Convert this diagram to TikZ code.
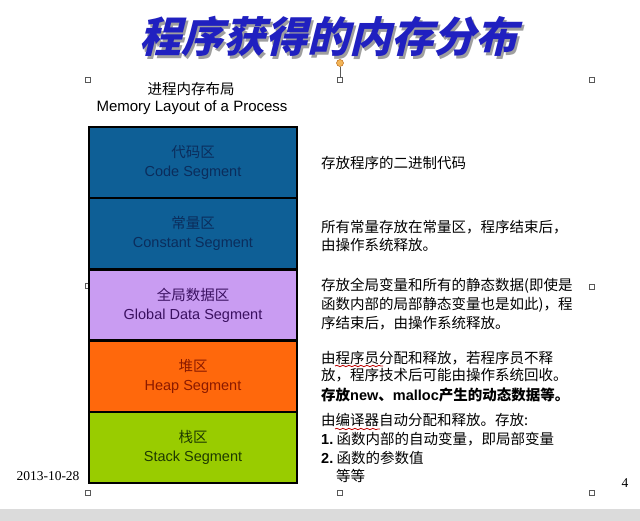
\documentclass[tikz,border=0pt]{standalone}
\usepackage{fontspec}
\setmainfont{Liberation Serif}
\newfontfamily\cjk{Noto Sans CJK SC}
\newfontfamily\arial{Liberation Sans}
\newfontfamily\titlefont[FakeSlant=0.25]{Noto Sans CJK SC}
\usetikzlibrary{decorations.pathmorphing}
\definecolor{segblue}{HTML}{0E5F96}
\definecolor{segbluetxt}{HTML}{0B2D5C}
\definecolor{seglav}{HTML}{C99CF2}
\definecolor{seglavtxt}{HTML}{3A1060}
\definecolor{segorange}{HTML}{FF680C}
\definecolor{segorangetxt}{HTML}{8B1A00}
\definecolor{seggreen}{HTML}{99CC00}
\definecolor{seggreentxt}{HTML}{1E3A00}
\definecolor{titleblue}{HTML}{2020C0}
\definecolor{handleorange}{HTML}{F2B457}
\newcommand{\titletext}{程序获得的内存分布}
\tikzset{
  seg/.style={draw=black, line width=2.4pt, minimum width=208pt, minimum height=71.2pt,
    inner sep=0pt, align=center, font=\fontsize{14.5}{19}\selectfont},
  desc/.style={anchor=base west, inner sep=0pt, font=\cjk\fontsize{14.5}{18}\selectfont},
  handle/.style={draw=gray!70!black, fill=white, line width=0.5pt, minimum size=5pt, inner sep=0pt},
  squig/.style={draw=red!75!black, line width=0.8pt, decorate,
    decoration={snake, amplitude=0.7pt, segment length=6pt}}
}
\begin{document}
\begin{tikzpicture}[x=1pt,y=-1pt]
\useasboundingbox (0,0) rectangle (640,521);
\fill[white] (0,0) rectangle (640,521);
\fill[gray!28] (0,509) rectangle (640,521);
% title with drop shadow (one node)
\node[font=\titlefont\bfseries\fontsize{42}{46}\selectfont, inner sep=0pt] (title) at (328,38)
  {\makebox[0pt][l]{\hspace{2.5pt}\raisebox{-2.5pt}{\color{gray!75}\titletext}}{\color{titleblue}\titletext}};
% selection handles
\node[handle] (h1) at (88,80) {};
\node[handle] (h2) at (340,80) {};
\node[handle] (h3) at (592,80) {};
\node[handle] (h4) at (88,286) {};
\node[handle] (h5) at (592,287) {};
\node[handle] (h6) at (88,493) {};
\node[handle] (h7) at (340,493) {};
\node[handle] (h8) at (592,493) {};
\node[circle, draw=orange!70!black, fill=handleorange, minimum size=7pt, inner sep=0pt] (rot) at (340,63) {};
\draw[gray!70!black, line width=0.5pt] (rot) -- (h2);
% heading
\node[font=\cjk\fontsize{14.5}{18}\selectfont, inner sep=0pt] (hcn) at (191,89) {进程内存布局};
\node[font=\arial\fontsize{15}{18}\selectfont, inner sep=0pt] (hen) at (192,108) {Memory Layout of a Process};
% segments
\node[seg, fill=segblue, text=segbluetxt] (code) at (193,162.6) {{\cjk 代码区}\\{\arial Code Segment}};
\node[seg, fill=segblue, text=segbluetxt] (const) at (193,233.8) {{\cjk 常量区}\\{\arial Constant Segment}};
\node[seg, fill=seglav, text=seglavtxt] (global) at (193,305) {{\cjk 全局数据区}\\{\arial Global Data Segment}};
\node[seg, fill=segorange, text=segorangetxt] (heap) at (193,376.2) {{\cjk 堆区}\\{\arial Heap Segment}};
\node[seg, fill=seggreen, text=seggreentxt] (stack) at (193,447.4) {{\cjk 栈区}\\{\arial Stack Segment}};
% descriptions
\node[desc] (d1) at (321,169) {存放程序的二进制代码};
\node[desc] (d2a) at (321,233) {所有常量存放在常量区，程序结束后，};
\node[desc] (d2b) at (321,251) {由操作系统释放。};
\node[desc] (d3a) at (321,291) {存放全局变量和所有的静态数据(即使是};
\node[desc] (d3b) at (321,310) {函数内部的局部静态变量也是如此)，程};
\node[desc] (d3c) at (321,329) {序结束后，由操作系统释放。};
\node[desc] (d4a) at (321,363) {由程序员分配和释放，若程序员不释};
\node[desc] (d4b) at (321,381) {放，程序技术后可能由操作系统回收。};
\node[desc] (d4c) at (321,400) {{\cjk\bfseries 存放}{\arial\bfseries new}{\cjk\bfseries 、}{\arial\bfseries malloc}{\cjk\bfseries 产生的动态数据等。}};
\node[desc] (d5a) at (321,425) {由编译器自动分配和释放。存放:};
\node[desc] (d5b) at (321,444) {{\arial\bfseries 1.}\ 函数内部的自动变量，即局部变量};
\node[desc] (d5c) at (321,463) {{\arial\bfseries 2.}\ 函数的参数值};
\node[desc] (d5d) at (336,481) {等等};
% spell-check underlines
\draw[squig] (335,366) -- (383,366);
\draw[squig] (335,429) -- (380,429);
% footer
\node[font=\fontsize{13.5}{16}\selectfont, inner sep=0pt] (date) at (48,476) {2013-10-28};
\node[font=\fontsize{13.5}{16}\selectfont, inner sep=0pt] (page) at (625,483) {4};
\end{tikzpicture}
\end{document}
